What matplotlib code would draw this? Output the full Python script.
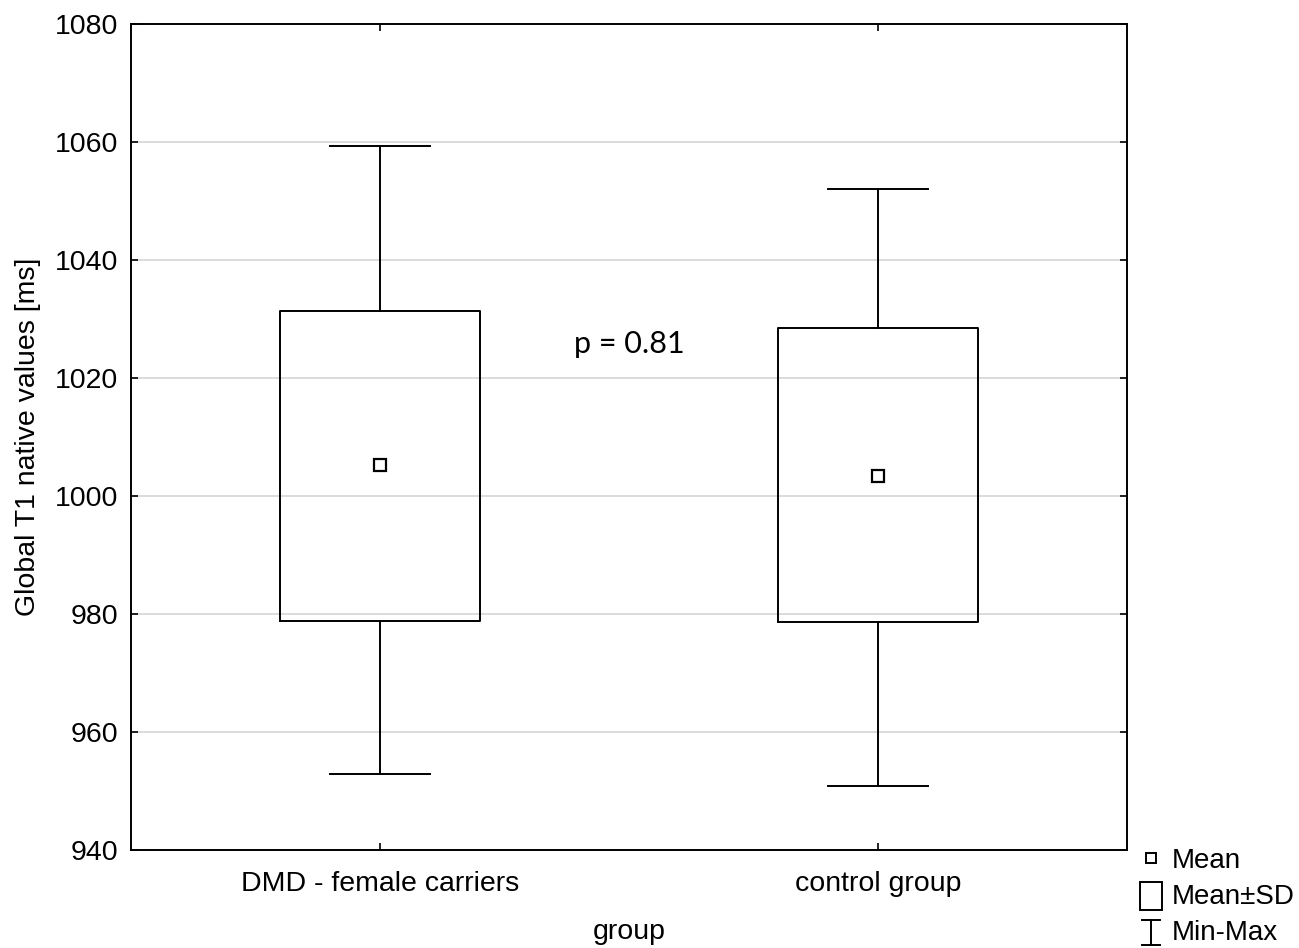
import matplotlib
matplotlib.use("Agg")
import matplotlib.pyplot as plt
from matplotlib.lines import Line2D
from matplotlib.patches import Rectangle

categories = ["DMD - female carriers", "control group"]
means = [1005.3, 1003.4]
sd_low = [978.8, 978.6]
sd_high = [1031.4, 1028.5]
mins = [952.8, 950.8]
maxs = [1059.3, 1052.0]
yticks = [940, 960, 980, 1000, 1020, 1040, 1060, 1080]

plt.rcParams['font.family'] = ['Liberation Sans', 'DejaVu Sans']

fig = plt.figure(figsize=(12.99, 9.48), dpi=100)
ax = fig.add_axes([131/1299, 98/948, 996/1299, 826/948])

stats = []
for i, c in enumerate(categories):
    stats.append(dict(label=c, med=means[i], mean=means[i], q1=sd_low[i], q3=sd_high[i],
                      whislo=mins[i], whishi=maxs[i], fliers=[]))
lw = 1.4
ax.bxp(stats, positions=[0, 1], widths=0.4, capwidths=0.2, showmeans=True,
       showfliers=False, patch_artist=False,
       boxprops=dict(color='black', linewidth=lw),
       whiskerprops=dict(color='black', linewidth=lw),
       capprops=dict(color='black', linewidth=lw),
       medianprops=dict(visible=False),
       meanprops=dict(marker='s', markersize=8, markerfacecolor='white',
                      markeredgecolor='black', markeredgewidth=1.6),
       zorder=3)

ax.set_xlim(-0.5, 1.5)
ax.set_ylim(940, 1080)
ax.set_yticks(yticks)
ax.set_yticklabels([str(v) for v in yticks])
ax.set_xticks([0, 1])
ax.set_xticklabels(categories)
for v in yticks[1:-1]:
    ax.axhline(v, color='#d9d9d9', linewidth=1.3, zorder=1)

ax.tick_params(axis='both', direction='in', length=5, width=1.2, labelsize=20.5,
               top=True, right=True)
ax.tick_params(axis='y', pad=9)
ax.tick_params(axis='x', pad=15)
for s in ax.spines.values():
    s.set_linewidth(1.4)

ax.set_ylabel("Global T1 native values [ms]", fontsize=20.5, labelpad=10)
ax.set_xlabel("group", fontsize=20.5, labelpad=16)

ax.text(0.5, 1025.7, "p = 0.81", fontsize=22, ha='center', va='center',
        family=['Lato', 'DejaVu Sans'])

# legend drawn in figure pixel coordinates
W, H = 1299, 948
def fx(x): return x / W
def fy(y): return 1 - y / H
fig.add_artist(Line2D([fx(1151)], [fy(858)], marker='s', markersize=7, markerfacecolor='white',
                      markeredgecolor='black', markeredgewidth=1.4, transform=fig.transFigure))
fig.text(fx(1172), fy(861), "Mean", fontsize=20, va='center')
fig.add_artist(Rectangle((fx(1140), fy(910)), fx(22), 28/H, facecolor='none', edgecolor='black',
                         linewidth=1.4, transform=fig.transFigure))
fig.text(fx(1172), fy(897), "Mean\u00b1SD", fontsize=20, va='center')
fig.add_artist(Line2D([fx(1151), fx(1151)], [fy(920), fy(945)], color='black', linewidth=1.4,
                      transform=fig.transFigure))
fig.add_artist(Line2D([fx(1142), fx(1160)], [fy(920), fy(920)], color='black', linewidth=1.4,
                      transform=fig.transFigure))
fig.add_artist(Line2D([fx(1142), fx(1160)], [fy(945), fy(945)], color='black', linewidth=1.4,
                      transform=fig.transFigure))
fig.text(fx(1172), fy(933), "Min-Max", fontsize=20, va='center')

fig.savefig("out.png", dpi=100)
